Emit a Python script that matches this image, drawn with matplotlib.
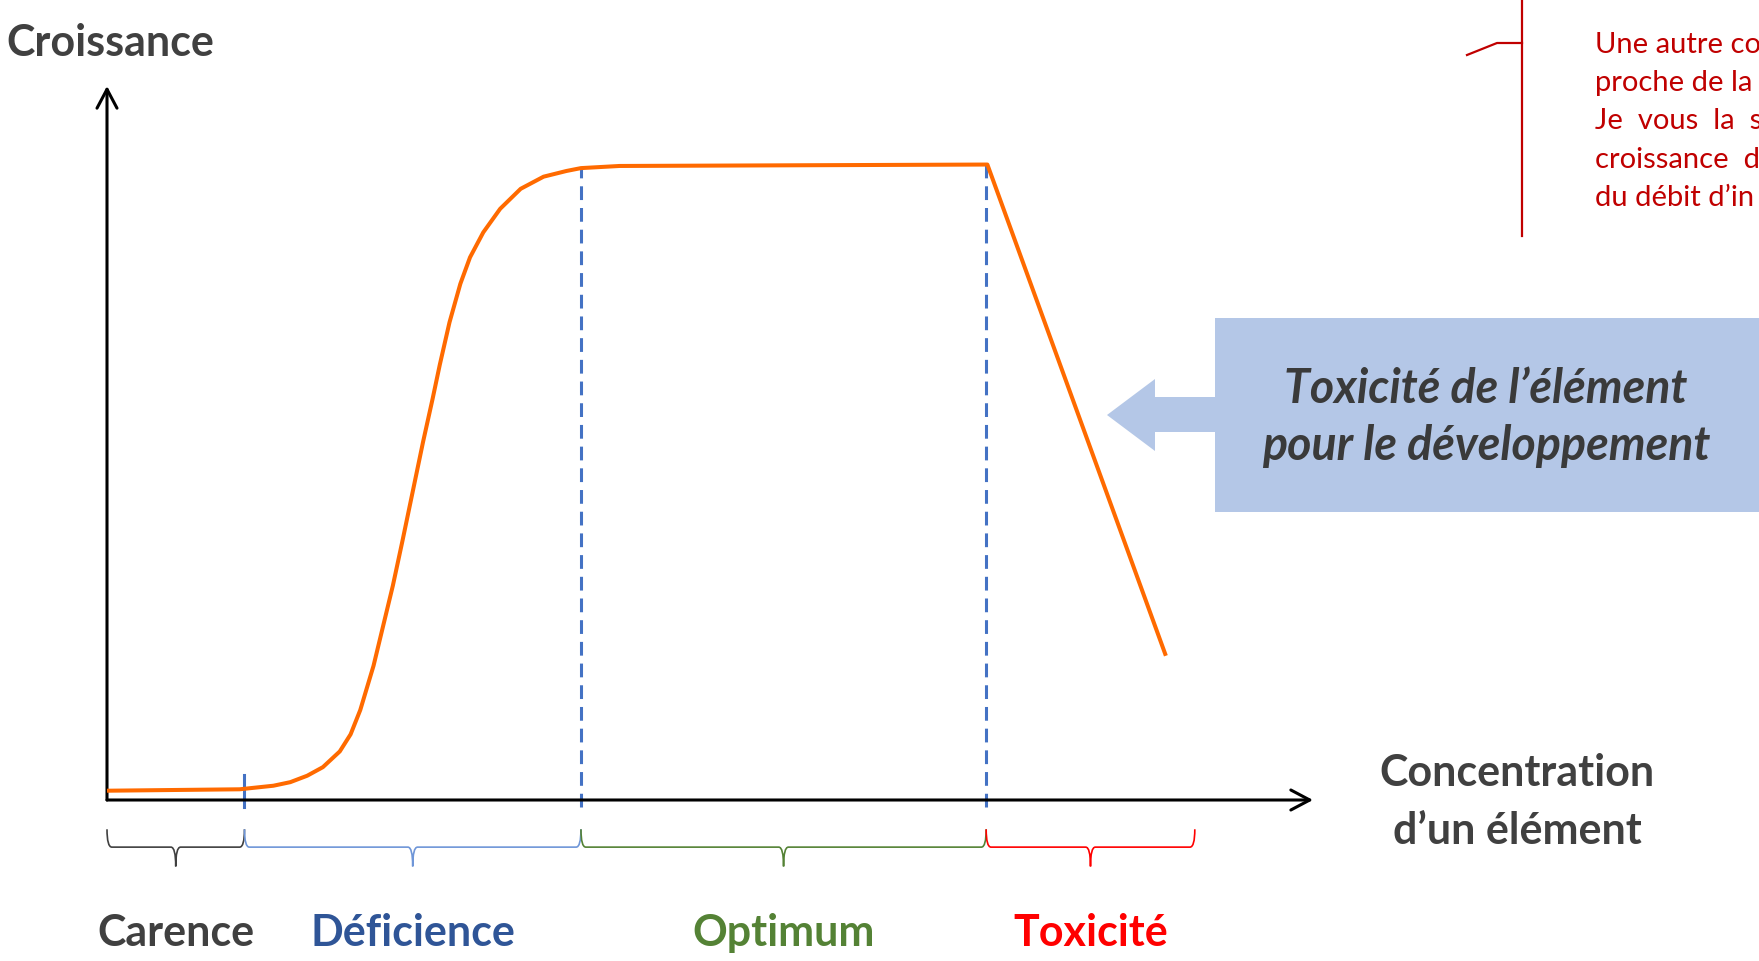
import matplotlib
matplotlib.use('Agg')
import numpy as np
import matplotlib.pyplot as plt
from matplotlib.path import Path
from matplotlib.patches import PathPatch, Rectangle, Polygon

plt.rcParams['font.family'] = ['Lato', 'DejaVu Sans']

# growth curve (arbitrary units, 0-100 on both axes)
concentration = [0, 11.0, 13.8, 15.2, 16.6, 17.9, 19.3, 20.2, 21.0, 22.1, 22.9,
                 23.7, 24.5, 25.4, 26.2, 27.0, 27.6, 28.4, 29.3, 30.1, 31.2,
                 32.6, 34.3, 36.2, 38.1, 39.3, 42.5, 73.0, 87.8]
growth = [1.3, 1.5, 2.0, 2.5, 3.4, 4.6, 6.8, 9.2, 12.6, 18.8, 24.4,
          30.0, 36.3, 43.6, 50.1, 56.2, 61.0, 66.9, 72.3, 76.0, 79.5,
          82.8, 85.6, 87.3, 88.1, 88.5, 88.8, 89.0, 20.2]

# zones along the concentration axis
zone_edges = [0, 11.4, 39.3, 72.9, 90.2]
zone_names = ['Carence', 'Déficience', 'Optimum', 'Toxicité']
zone_text_colors = ['#404040', '#2f5597', '#548235', '#ff0000']
zone_brace_colors = ['#404040', '#6f96d8', '#548235', '#ff0000']
limit_lines = [11.4, 39.3, 72.9]
limit_tops = [3.5, 88.5, 89.0]

comment_lines = ['Une autre co', 'proche de la', 'Je  vous  la  s', 'croissance  d',
                 'du débit d\u2019in']

W, H = 1759, 962
fig = plt.figure(figsize=(W / 100, H / 100), dpi=100)

# overlay in pixel units for the decorations
deco = fig.add_axes([0, 0, 1, 1])
deco.set_xlim(0, W)
deco.set_ylim(H, 0)
deco.axis('off')

ax = fig.add_axes([107 / W, 1 - 801 / H, 1206 / W, 714 / H])
ax.set_xlim(0, 100)
ax.set_ylim(0, 100)
ax.axis('off')

dark = '#404040'

# axes with open arrow heads
arrow_kw = dict(arrowstyle='->,head_length=0.68,head_width=0.36', lw=2.2,
                color='black', mutation_scale=20, shrinkA=0, shrinkB=0)
ax.annotate('', xy=(100, 0), xytext=(0, 0), arrowprops=arrow_kw, annotation_clip=False)
ax.annotate('', xy=(0, 100), xytext=(0, 0), arrowprops=arrow_kw, annotation_clip=False)

# dashed limits
for xl, top in zip(limit_lines, limit_tops):
    ls = '-' if top < 10 else (0, (4.5, 2.6))
    ax.plot([xl, xl], [-1, top], color='#4472c4', lw=2.2, ls=ls, clip_on=False, zorder=2)

ax.plot(concentration, growth, color='#ff6a00', lw=2.9, clip_on=False, zorder=3,
        solid_joinstyle='round', solid_capstyle='butt')

# braces under the axis
y_top, y_mid, y_tip = -4.1, -6.6, -9.3
r = 0.4
for i in range(4):
    x0, x1 = zone_edges[i], zone_edges[i + 1]
    xc = (x0 + x1) / 2
    verts = [(x0, y_top), (x0, y_mid), (x0 + r, y_mid),
             (xc - r, y_mid), (xc, y_mid), (xc, y_tip),
             (xc, y_mid), (xc + r, y_mid),
             (x1 - r, y_mid), (x1, y_mid), (x1, y_top)]
    codes = [Path.MOVETO, Path.CURVE3, Path.CURVE3,
             Path.LINETO, Path.CURVE3, Path.CURVE3,
             Path.CURVE3, Path.CURVE3,
             Path.LINETO, Path.CURVE3, Path.CURVE3]
    ax.add_patch(PathPatch(Path(verts, codes), fill=False, lw=1.2,
                           edgecolor=zone_brace_colors[i], clip_on=False))
    ax.text(xc, -18.5, zone_names[i], ha='center', va='center', fontsize=31,
            fontweight='bold', color=zone_text_colors[i], clip_on=False)

# axis titles
deco.text(6, 43, 'Croissance', ha='left', va='center', fontsize=31,
          fontweight='bold', color=dark)
deco.text(1517, 773, 'Concentration', ha='center', va='center', fontsize=31,
          fontweight='bold', color=dark)
deco.text(1517, 831, 'd\u2019un élément', ha='center', va='center', fontsize=31,
          fontweight='bold', color=dark)

# callout box
box_col = '#b4c7e7'
deco.add_patch(Rectangle((1215, 319), W - 1215, 194, facecolor=box_col, edgecolor='none'))
deco.add_patch(Polygon([(1107, 416), (1155, 380), (1155, 398), (1216, 398),
                        (1216, 433), (1155, 433), (1155, 452)],
                       closed=True, facecolor=box_col, edgecolor='none'))
deco.text(1486, 389, 'Toxicité de l\u2019élément', ha='center', va='center',
          fontsize=33.5, fontweight='bold', fontstyle='italic', color='#3a3a3a')
deco.text(1486, 446, 'pour le développement', ha='center', va='center',
          fontsize=33.5, fontweight='bold', fontstyle='italic', color='#3a3a3a')

# comment marker, top right
red = '#c00000'
deco.plot([1522, 1522], [0, 237], color=red, lw=1.6)
deco.plot([1467, 1497, 1522], [56, 44, 44], color=red, lw=1.6)
for i, line in enumerate(comment_lines):
    deco.text(1595, 45 + i * 38.2, line, ha='left', va='center', fontsize=21,
              color=red)

plt.savefig('out.png', dpi=100)
plt.close()
